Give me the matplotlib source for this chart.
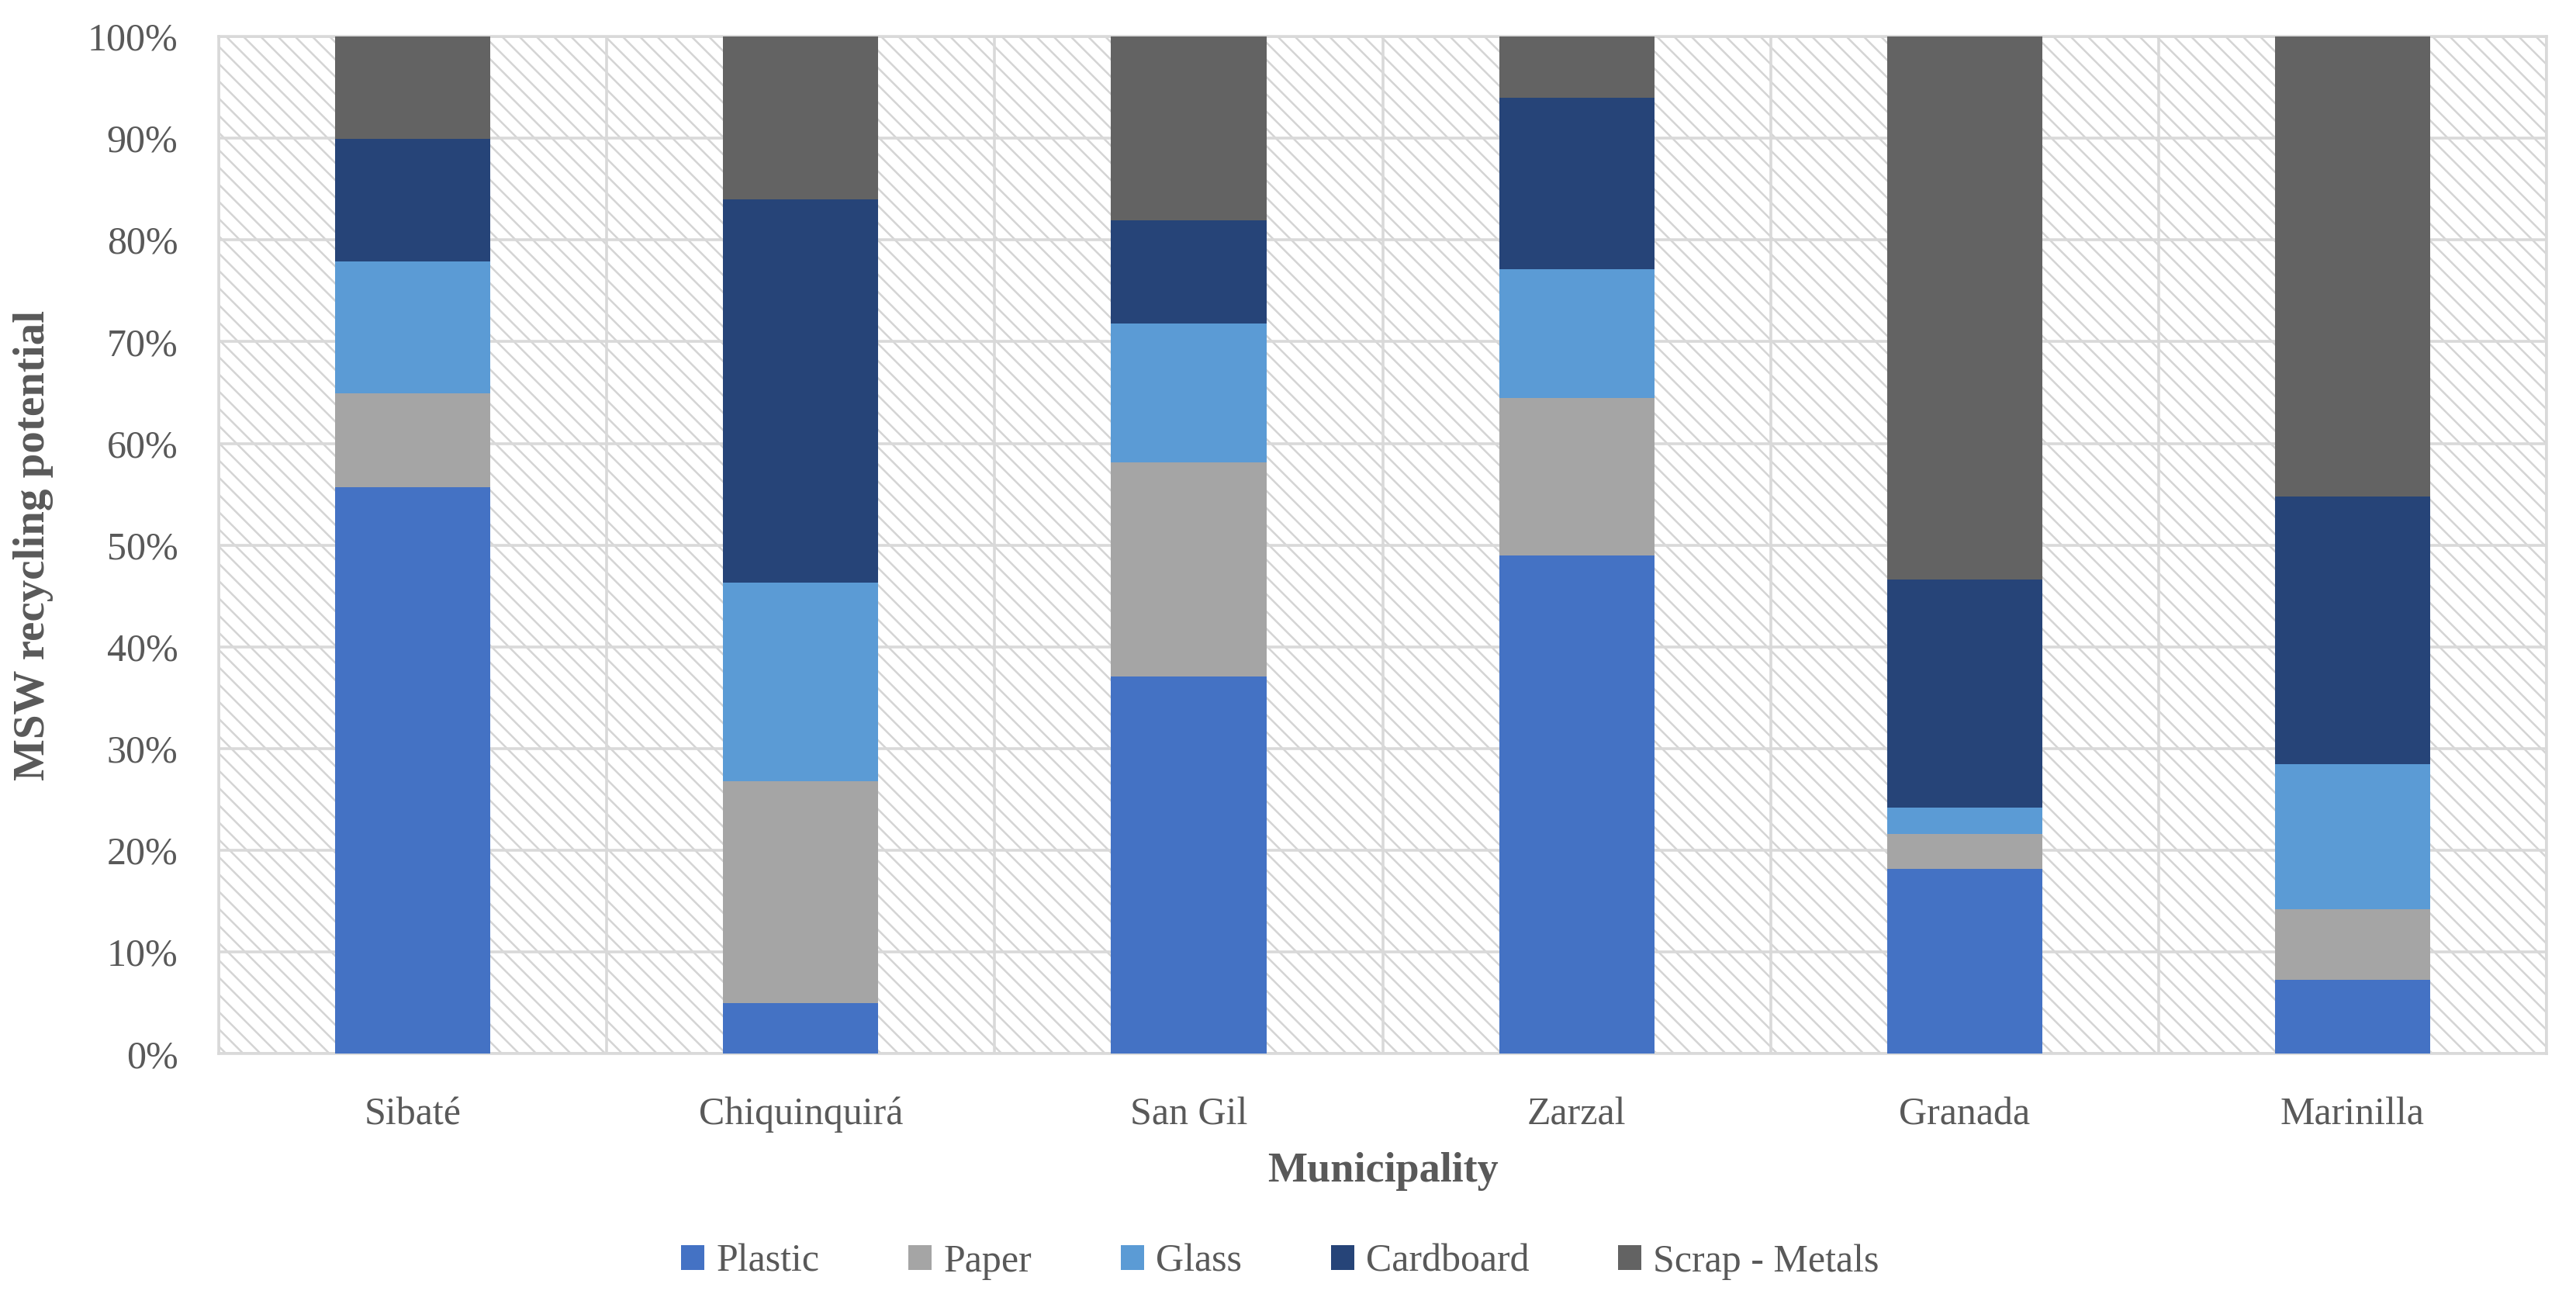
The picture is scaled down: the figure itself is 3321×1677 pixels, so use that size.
import matplotlib
matplotlib.use("Agg")
import matplotlib.pyplot as plt
import numpy as np
from matplotlib.patches import Rectangle
from matplotlib.ticker import PercentFormatter

# data (percent of MSW recycling potential)
municipalities = ["Sibaté", "Chiquinquirá", "San Gil", "Zarzal", "Granada", "Marinilla"]
plastic = [55.7, 5.0, 37.1, 49.0, 18.2, 7.3]
paper = [9.2, 21.8, 21.0, 15.5, 3.4, 6.9]
glass = [13.0, 19.5, 13.7, 12.6, 2.6, 14.3]
cardboard = [12.0, 37.7, 10.1, 16.9, 22.4, 26.3]
scrap_metals = [10.1, 16.0, 18.1, 6.0, 53.4, 45.2]

series_names = ["Plastic", "Paper", "Glass", "Cardboard", "Scrap - Metals"]
colors = ["#4472C4", "#A5A5A5", "#5B9BD5", "#264478", "#636363"]

plt.rcParams["font.family"] = ["Liberation Serif", "DejaVu Serif"]
plt.rcParams["hatch.color"] = "#D4D4D4"
plt.rcParams["hatch.linewidth"] = 0.9

text_col = "#595959"
grid_col = "#D9D9D9"

fig = plt.figure(figsize=(16.605, 8.385), dpi=200)
ax = fig.add_axes([0.085, 0.19, 0.9035, 0.782])

x = np.arange(len(municipalities))
bottom = np.zeros(len(municipalities))
for name, vals, col in zip(series_names, [plastic, paper, glass, cardboard, scrap_metals], colors):
    ax.bar(x, vals, width=0.40, bottom=bottom, color=col, label=name, zorder=3)
    bottom += np.array(vals)

# hatched background
ax.add_patch(Rectangle((0, 0), 1, 1, transform=ax.transAxes, facecolor="white",
                       edgecolor="#D4D4D4", hatch="\\\\\\", linewidth=0, zorder=0))

ax.set_xlim(-0.5, len(municipalities) - 0.5)
ax.set_ylim(0, 100)
ax.set_yticks(np.arange(0, 101, 10))
ax.yaxis.set_major_formatter(PercentFormatter(decimals=0))
ax.set_xticks(x)
ax.set_xticklabels(municipalities)
ax.set_xticks(np.arange(-0.5, len(municipalities), 1), minor=True)

ax.grid(axis="y", which="major", color=grid_col, linewidth=1.3, zorder=1)
ax.grid(axis="x", which="minor", color=grid_col, linewidth=1.3, zorder=1)
ax.grid(axis="x", which="major", visible=False)
ax.set_axisbelow(True)

for s in ax.spines.values():
    s.set_color(grid_col)
    s.set_linewidth(1.3)

ax.tick_params(axis="both", which="both", length=0, labelsize=18, colors=text_col)
ax.tick_params(axis="x", pad=20)
ax.tick_params(axis="y", pad=19)

ax.set_xlabel("Municipality", fontsize=19.5, fontweight="bold", color=text_col, labelpad=9)
ax.set_ylabel("MSW recycling potential", fontsize=20.5, fontweight="bold", color=text_col)
ax.yaxis.set_label_coords(-0.071, 0.5)

fig.legend(loc="center", bbox_to_anchor=(0.497, 0.03), ncol=5, frameon=False,
           fontsize=18, labelcolor=text_col, handlelength=0.6, handleheight=0.6,
           handletextpad=0.3, columnspacing=2.3)

fig.savefig("out.png", dpi=200)
